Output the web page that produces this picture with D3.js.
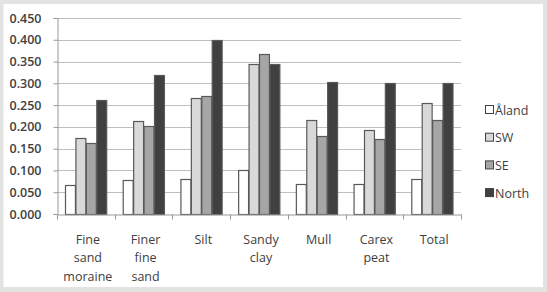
<!DOCTYPE html>
<html>
<head>
<meta charset="utf-8">
<script src="https://cdn.jsdelivr.net/npm/d3@7"></script>
<style>
  html, body { margin: 0; padding: 0; background: #e3e3e3; }
  svg text { font-family: "Open Sans", "Noto Sans", sans-serif; fill: #404040; }
</style>
</head>
<body>
<div id="chart"></div>
<script>
const categories = [["Fine", "sand", "moraine"], ["Finer", "fine", "sand"], ["Silt"], ["Sandy", "clay"], ["Mull"], ["Carex", "peat"], ["Total"]]
const series = ["Åland", "SW", "SE", "North"]
const aland = [0.067, 0.078, 0.080, 0.100, 0.069, 0.069, 0.080]
const sw = [0.174, 0.213, 0.267, 0.345, 0.216, 0.193, 0.254]
const se = [0.164, 0.202, 0.271, 0.367, 0.179, 0.172, 0.216]
const north = [0.262, 0.319, 0.399, 0.345, 0.304, 0.301, 0.300]
const yTicks = [0, 0.05, 0.1, 0.15, 0.2, 0.25, 0.3, 0.35, 0.4, 0.45]

const colors = { "Åland": "#ffffff", "SW": "#d9d9d9", "SE": "#a6a6a6", "North": "#404040" }
const values = { "Åland": aland, "SW": sw, "SE": se, "North": north }

const W = 547, H = 292
const svg = d3.select("#chart").append("svg")
    .attr("width", W)
    .attr("height", H)

// white panel
svg.append("rect")
    .attr("x", 3.5).attr("y", 4)
    .attr("width", 539.5).attr("height", 283)
    .attr("fill", "#fff")

const plot = { left: 57, right: 461, top: 18, bottom: 214 }

const x0 = d3.scaleBand()
    .domain(d3.range(categories.length))
    .range([plot.left, plot.right])
    .padding(0)

const x1 = d3.scaleBand()
    .domain(series)
    .range([8, x0.bandwidth() - 8])

const y = d3.scaleLinear()
    .domain([0, 0.45])
    .range([plot.bottom, plot.top])

// gridlines
svg.append("g")
    .selectAll("line")
    .data(yTicks.slice(1))
    .join("line")
        .attr("x1", plot.left).attr("x2", plot.right)
        .attr("y1", d => Math.round(y(d)) + 0.5)
        .attr("y2", d => Math.round(y(d)) + 0.5)
        .attr("stroke", "#bfbfbf")
        .attr("stroke-width", 1.2)

// y axis
const yAxis = d3.axisLeft(y)
    .tickValues(yTicks)
    .tickFormat(d3.format(".3f"))
    .tickSize(4)
    .tickPadding(12)

const yGroup = svg.append("g")
    .attr("transform", `translate(${plot.left + 0.5},0)`)
    .call(yAxis)
yGroup.select(".domain").attr("stroke", "#999")
yGroup.selectAll(".tick line").attr("stroke", "#999")
yGroup.selectAll(".tick text")
    .attr("font-size", 12.5)
    .attr("font-weight", 600)
    .attr("fill", "#404050")
    .style("font-family", "'Open Sans', sans-serif")

// bars
const groups = svg.append("g")
    .selectAll("g")
    .data(categories.map((c, i) => i))
    .join("g")
        .attr("transform", i => `translate(${x0(i)},0)`)

groups.selectAll("rect")
    .data(i => series.map(s => ({ s, v: values[s][i] })))
    .join("rect")
        .attr("x", d => x1(d.s) + 0.5)
        .attr("y", d => Math.round(y(d.v)) + 0.5)
        .attr("width", x1.bandwidth() - 0.5)
        .attr("height", d => plot.bottom - Math.round(y(d.v)))
        .attr("fill", d => colors[d.s])
        .attr("stroke", "#595959")
        .attr("stroke-width", 1.2)

// x axis
const xAxis = d3.axisBottom(x0)
    .tickValues([])
    .tickSizeOuter(0)
const xGroup = svg.append("g")
    .attr("transform", `translate(0,${plot.bottom + 0.5})`)
    .call(xAxis)
xGroup.select(".domain").attr("stroke", "#999")
xGroup.selectAll(".sep")
    .data(d3.range(categories.length + 1))
    .join("line")
        .attr("class", "sep")
        .attr("x1", i => Math.round(plot.left + i * x0.step()) + 0.5)
        .attr("x2", i => Math.round(plot.left + i * x0.step()) + 0.5)
        .attr("y1", 0).attr("y2", 5)
        .attr("stroke", "#999")

// category labels
const labels = svg.append("g")
    .selectAll("text")
    .data(categories.map((c, i) => i))
    .join("text")
        .attr("text-anchor", "middle")
        .attr("font-size", 12.5)
        .attr("x", i => x0(i) + x0.bandwidth() / 2 + 2)
        .attr("y", 244)
labels.selectAll("tspan")
    .data(i => categories[i])
    .join("tspan")
        .attr("x", function() { return d3.select(this.parentNode).attr("x") })
        .attr("dy", (d, j) => j === 0 ? 0 : 18.3)
        .text(d => d)

// legend
const legend = svg.append("g")
    .selectAll("g")
    .data(series)
    .join("g")
        .attr("transform", (d, i) => `translate(485,${110 + i * 27.7})`)
legend.append("rect")
    .attr("x", 0.5).attr("y", -4.5)
    .attr("width", 8).attr("height", 8)
    .attr("fill", d => colors[d])
    .attr("stroke", "#404040")
legend.append("text")
    .attr("x", 10)
    .attr("y", 4.5)
    .attr("font-size", 12.5)
    .text(d => d)
</script>
</body>
</html>
